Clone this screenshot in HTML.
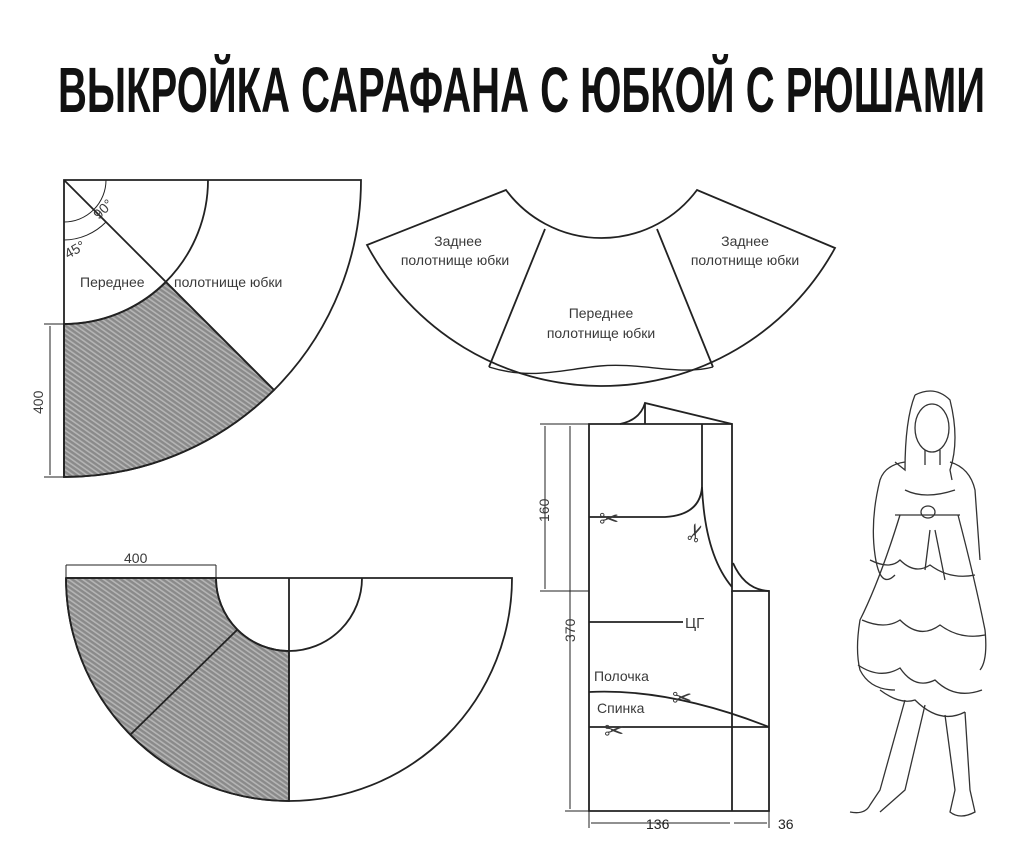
<!DOCTYPE html>
<html><head><meta charset="utf-8"><style>
html,body{margin:0;padding:0;background:#fff;}
svg{display:block;}
text{font-family:"Liberation Sans",sans-serif;fill:#3a3a3a;}
</style></head><body>
<svg width="1024" height="854" viewBox="0 0 1024 854" xmlns="http://www.w3.org/2000/svg">
<defs>
<pattern id="h" width="4" height="4" patternUnits="userSpaceOnUse" patternTransform="rotate(-55)">
<rect width="4" height="4" fill="#8a8a8a"/><rect width="1.6" height="4" fill="#b5b5b5"/>
</pattern>
</defs>
<text x="58" y="112" font-size="64" font-weight="bold" textLength="927" lengthAdjust="spacingAndGlyphs" style="font-family:'Liberation Sans Narrow','Liberation Sans',sans-serif;fill:#111">ВЫКРОЙКА САРАФАНА С ЮБКОЙ С РЮШАМИ</text>

<g fill="none" stroke="#222" stroke-width="1.8">
<path d="M64,324 A144,144 0 0 0 166,282 L274,390 A297,297 0 0 1 64,477 Z" fill="url(#h)"/>
<path d="M64,180 L361,180 A297,297 0 0 1 64,477 Z"/>
<path d="M208,180 A144,144 0 0 1 64,324"/>
<line x1="64" y1="180" x2="274" y2="390"/>
<path d="M106,180 A42,42 0 0 1 64,222" stroke-width="1"/>
<path d="M106,222 A60,60 0 0 1 64,240" stroke-width="1"/>
<line x1="44" y1="324" x2="64" y2="324" stroke-width="1"/>
<line x1="44" y1="477" x2="64" y2="477" stroke-width="1"/>
<line x1="50" y1="326" x2="50" y2="475" stroke-width="1"/>

<path d="M506,190 A119,119 0 0 0 697,190 L835,248 A266,266 0 0 1 367,245 Z"/>
<line x1="545" y1="229" x2="489" y2="367"/>
<line x1="657" y1="229" x2="713" y2="367"/>
<path d="M489,367 C530,380 560,370 600,366 C640,362 680,376 713,367" stroke-width="1.4"/>

<path d="M66,578 L216,578 A73,73 0 0 0 289,651 L289,801 A223,223 0 0 1 66,578 Z" fill="url(#h)"/>
<path d="M66,578 L512,578 A223,223 0 0 1 66,578"/>
<path d="M216,578 A73,73 0 0 0 362,578"/>
<line x1="289" y1="578" x2="289" y2="801"/>
<line x1="237" y1="630" x2="131" y2="734"/>
<line x1="66" y1="565" x2="216" y2="565" stroke-width="1"/>
<line x1="66" y1="565" x2="66" y2="578" stroke-width="1"/>
<line x1="216" y1="565" x2="216" y2="578" stroke-width="1"/>

<path d="M589,424 L732,424 L732,591 L769,591 L769,811 L589,811 Z"/>
<line x1="732" y1="591" x2="732" y2="811"/>
<path d="M620,424 Q640,420 645,403 L732,424" />
<line x1="645" y1="403" x2="645" y2="424"/>
<path d="M702,424 L702,487 Q705,555 732,587" />
<path d="M733,563 Q745,590 769,591"/>
<path d="M589,517 L665,517 Q700,515 702,487"/>
<line x1="589" y1="622" x2="683" y2="622"/>
<path d="M589,692 Q670,688 769,727"/>
<line x1="589" y1="727" x2="769" y2="727"/>
<g stroke-width="1">
<line x1="540" y1="424" x2="589" y2="424"/>
<line x1="540" y1="591" x2="589" y2="591"/>
<line x1="545" y1="426" x2="545" y2="589"/>
<line x1="570" y1="426" x2="570" y2="809"/>
<line x1="565" y1="811" x2="589" y2="811"/>
<line x1="589" y1="811" x2="589" y2="828"/>
<line x1="769" y1="811" x2="769" y2="828"/>
<line x1="591" y1="823" x2="730" y2="823"/>
<line x1="734" y1="823" x2="767" y2="823"/>
</g>
</g>

<g font-size="14">
<text x="80" y="287">Переднее</text>
<text x="174" y="287">полотнище юбки</text>
<text transform="translate(99,220) rotate(-45)">90°</text>
<text transform="translate(68,259) rotate(-30)">45°</text>
<text transform="translate(43,414) rotate(-90)">400</text>
<text x="124" y="563">400</text>
<text x="458" y="246" text-anchor="middle">Заднее</text>
<text x="455" y="265" text-anchor="middle">полотнище юбки</text>
<text x="745" y="246" text-anchor="middle">Заднее</text>
<text x="745" y="265" text-anchor="middle">полотнище юбки</text>
<text x="601" y="318" text-anchor="middle">Переднее</text>
<text x="601" y="338" text-anchor="middle">полотнище юбки</text>
<text x="685" y="628" font-size="15">ЦГ</text>
<text x="594" y="681">Полочка</text>
<text x="597" y="713">Спинка</text>
<text transform="translate(549,522) rotate(-90)">160</text>
<text transform="translate(575,642) rotate(-90)">370</text>
<text x="646" y="829" style="fill:#222">136</text>
<text x="778" y="829" style="fill:#222">36</text>
</g>
<g font-size="24" style="font-family:'DejaVu Sans',sans-serif;fill:#333">
<text x="599" y="527">✂</text>
<text transform="translate(700,545) rotate(-70)">✂</text>
<text x="672" y="706">✂</text>
<text x="604" y="739">✂</text>
</g>

<g fill="none" stroke="#333" stroke-width="1.3">
<path d="M915,395 Q935,385 950,400 Q960,440 950,470 L952,480"/>
<path d="M915,395 Q905,420 905,470 L895,462"/>
<ellipse cx="932" cy="428" rx="17" ry="24"/>
<path d="M925,450 L925,465 M940,450 L940,465"/>
<path d="M905,462 Q885,465 880,480 Q870,520 875,555 Q880,590 895,575"/>
<path d="M950,462 Q970,468 975,490 L980,560"/>
<path d="M905,490 Q925,500 955,490"/>
<path d="M895,515 L960,515"/>
<ellipse cx="928" cy="512" rx="7" ry="6"/>
<path d="M900,515 Q880,580 860,620 Q855,650 860,670 Q870,690 895,690"/>
<path d="M958,515 Q975,580 985,630 Q988,660 980,670"/>
<path d="M870,560 Q890,570 900,560 Q915,575 930,565 Q950,580 975,575"/>
<path d="M862,620 Q885,630 900,620 Q920,640 940,625 Q960,640 985,635"/>
<path d="M858,665 Q880,680 900,668 Q915,690 935,680 Q955,700 982,690"/>
<path d="M880,690 Q900,705 915,700 Q940,725 965,712"/>
<path d="M930,530 L925,570 M935,530 L945,580"/>
<path d="M905,700 L880,790 L870,805 Q865,815 850,812 M925,705 L905,790 L880,812"/>
<path d="M945,715 L955,790 L950,812 Q960,820 975,812 L970,790 L965,712"/>
</g>
</svg>
</body></html>
